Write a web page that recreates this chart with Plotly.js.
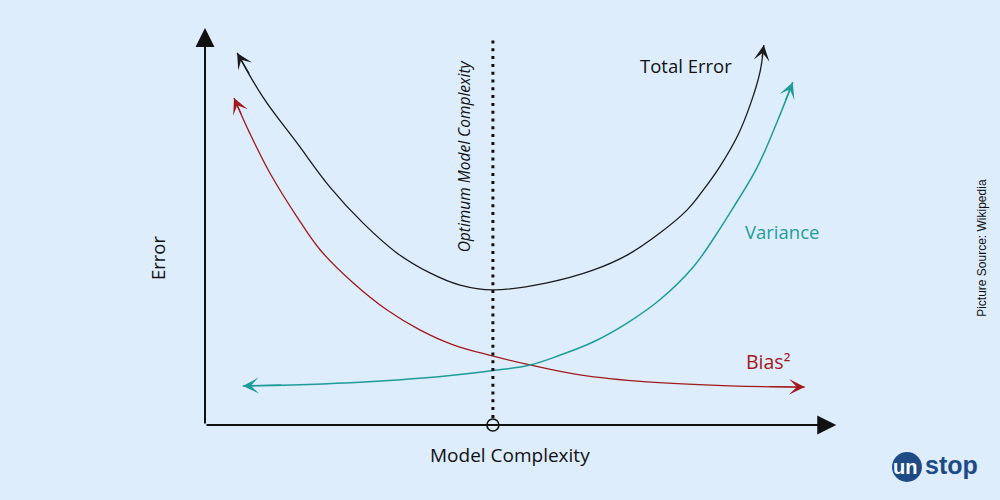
<!DOCTYPE html>
<html>
<head>
<meta charset="utf-8">
<script src="https://cdn.plot.ly/plotly-3.0.1.min.js"></script>
<style>
html,body{margin:0;padding:0;background:#ddedfc;}
#chart{width:1000px;height:500px;}
</style>
</head>
<body>
<div id="chart"></div>
<script>
// Model complexity (x) and error (y), axis scale 0..10
const totalX = [0.51, 0.92, 1.46, 1.98, 2.51, 3.05, 3.57, 4.05, 4.57, 5.43, 6.16, 6.70, 7.22, 7.65, 7.91, 8.18, 8.46, 8.67, 8.81, 8.87];
const totalY = [9.42, 8.30, 7.14, 6.03, 5.11, 4.35, 3.85, 3.54, 3.42, 3.60, 3.92, 4.30, 4.86, 5.44, 5.95, 6.56, 7.34, 8.18, 8.94, 9.62];

const biasX = [0.46, 0.71, 1.03, 1.46, 1.83, 2.35, 2.89, 3.41, 3.94, 4.56, 5.16, 5.95, 7.02, 8.33, 9.52];
const biasY = [8.28, 7.39, 6.38, 5.27, 4.43, 3.60, 2.91, 2.41, 2.03, 1.75, 1.52, 1.27, 1.09, 0.99, 0.96];

const varX = [0.60, 1.87, 3.46, 4.52, 5.16, 5.64, 6.16, 6.70, 7.22, 7.75, 8.13, 8.38, 8.76, 9.08, 9.33];
const varY = [0.99, 1.04, 1.19, 1.37, 1.52, 1.77, 2.10, 2.58, 3.17, 4.00, 4.86, 5.49, 6.51, 7.67, 8.68];

const optimumX = 4.57;
const optimumTop = 9.82;
const axisMaxX = 10.02;
const axisMaxY = 10.05;

const labels = {
  total: "Total Error",
  variance: "Variance",
  bias: "Bias²",
  optimum: "Optimum Model Complexity",
  xTitle: "Model Complexity",
  yTitle: "Error",
  source: "Picture Source: Wikipedia"
};

const cBlack = "#1b1b1b";
const cTeal = "#1f9c9a";
const cRed = "#a2191b";
const cLogo = "#1e4b86";
const font = "Open Sans, Noto Sans, sans-serif";
const sline = {shape: "spline", smoothing: 1.1};

const traces = [
  {x: totalX, y: totalY, mode: "lines", line: Object.assign({color: cBlack, width: 1.3}, sline), hoverinfo: "skip"},
  {x: biasX, y: biasY, mode: "lines", line: Object.assign({color: cRed, width: 1.3}, sline), hoverinfo: "skip"},
  {x: varX, y: varY, mode: "lines", line: Object.assign({color: cTeal, width: 1.5}, sline), hoverinfo: "skip"},
  {x: [optimumX, optimumX], y: [0.18, optimumTop], mode: "lines", line: {color: "#111", width: 3, dash: "3px,4.8px"}, hoverinfo: "skip"},
  {x: [optimumX], y: [0], mode: "markers", marker: {symbol: "circle-open", size: 12, color: "#111", line: {width: 1.6, color: "#111"}}, hoverinfo: "skip", cliponaxis: false}
];

// arrowhead at a curve end, pointing along the direction from the neighbouring point
function arrow(xs, ys, tipIdx, nbIdx, color, w, size, head) {
  const tx = xs[tipIdx], ty = ys[tipIdx];
  const f = 0.5;
  return {x: tx, y: ty, ax: tx + f * (xs[nbIdx] - tx), ay: ty + f * (ys[nbIdx] - ty),
    xref: "x", yref: "y", axref: "x", ayref: "y", text: "", showarrow: true,
    arrowhead: head, arrowsize: size, arrowwidth: w, arrowcolor: color, standoff: 0, startstandoff: 0};
}

function outside(x, y, text, size, color, family, angle) {
  return {x: x, y: y, xref: "paper", yref: "paper", xanchor: "center", yanchor: "middle",
    text: text, textangle: angle || 0, showarrow: false, font: {family: family, size: size, color: color}};
}

const sansA = "Liberation Sans, Arial, sans-serif";

const annotations = [
  // axes
  {x: axisMaxX, y: 0, ax: 0, ay: 0, xref: "x", yref: "y", axref: "x", ayref: "y", text: "", showarrow: true, arrowhead: 2, arrowsize: 1.9, arrowwidth: 2, arrowcolor: "#111"},
  {x: 0, y: axisMaxY, ax: 0, ay: 0, xref: "x", yref: "y", axref: "x", ayref: "y", text: "", showarrow: true, arrowhead: 2, arrowsize: 1.9, arrowwidth: 2, arrowcolor: "#111"},
  // curve arrowheads
  arrow(totalX, totalY, 0, 1, cBlack, 1.2, 2.2, 3),
  arrow(totalX, totalY, totalX.length - 1, totalX.length - 2, cBlack, 1.2, 2.2, 3),
  arrow(biasX, biasY, 0, 1, cRed, 1.2, 2.2, 3),
  arrow(biasX, biasY, biasX.length - 1, biasX.length - 2, cRed, 1.2, 2.2, 3),
  arrow(varX, varY, 0, 1, cTeal, 1.4, 1.9, 3),
  arrow(varX, varY, varX.length - 1, varX.length - 2, cTeal, 1.4, 1.9, 3),
  // labels inside the plot
  {x: 7.635, y: 9.11, xref: "x", yref: "y", text: labels.total, showarrow: false, font: {family: font, size: 18.5, color: "#111"}},
  {x: 9.16, y: 4.89, xref: "x", yref: "y", text: labels.variance, showarrow: false, font: {family: font, size: 18.5, color: cTeal}},
  {x: 8.94, y: 1.62, xref: "x", yref: "y", text: labels.bias, showarrow: false, font: {family: font, size: 19.5, color: cRed}},
  {x: 4.11, y: 6.80, xref: "x", yref: "y", text: "<i>" + labels.optimum + "</i>", textangle: -90, showarrow: false, font: {family: font, size: 15.5, color: "#111"}},
  // labels outside the plot (paper coordinates)
  outside(0.484, -0.076, labels.xTitle, 19, "#111", font),
  outside(-0.0762, 0.425, labels.yTitle, 18.5, "#111", font, -90),
  outside(1.233, 0.448, labels.source, 12, "#111", sansA, -90),
  // logo
  outside(1.1115, -0.106, "<b>un</b>", 20, "#ffffff", sansA),
  outside(1.1857, -0.102, "<b>stop</b>", 25, cLogo, sansA)
];

const layout = {
  width: 1000, height: 500,
  margin: {l: 205, r: 165, t: 30, b: 75},
  paper_bgcolor: "#ddedfc",
  plot_bgcolor: "#ddedfc",
  showlegend: false,
  xaxis: {range: [0, 10], visible: false, fixedrange: true},
  yaxis: {range: [0, 10], visible: false, fixedrange: true},
  annotations: annotations,
  shapes: [
    {type: "circle", xref: "paper", yref: "paper", x0: 1.0905, x1: 1.138, y0: -0.1443, y1: -0.0684, fillcolor: cLogo, line: {width: 0}, layer: "below"}
  ]
};

Plotly.newPlot("chart", traces, layout, {staticPlot: true, displayModeBar: false});
</script>
</body>
</html>
